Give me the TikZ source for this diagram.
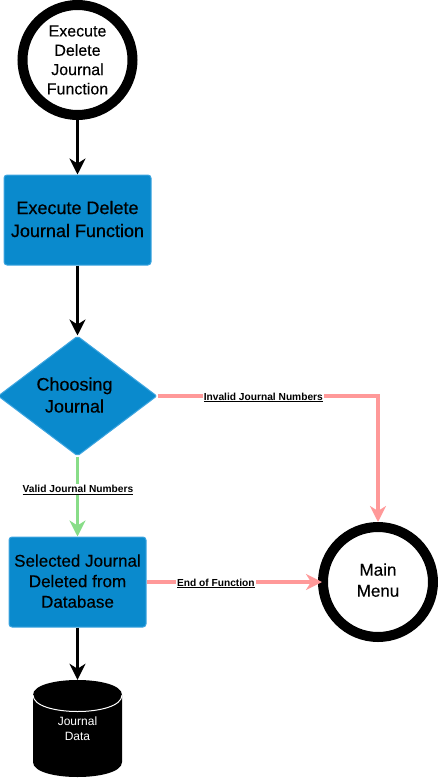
\documentclass[tikz,border=0pt]{standalone}
\usepackage{fontspec}
\setmainfont{Liberation Sans}
\newfontfamily\softheavy[FakeBold=0.25]{Liberation Sans}
\newfontfamily\strongheavy[FakeBold=0.6]{Liberation Sans}
\usetikzlibrary{shapes.geometric,arrows.meta}
\definecolor{boxblue}{HTML}{0A8ACD}
\definecolor{boxedge}{HTML}{3DA5E0}
\definecolor{redline}{HTML}{FF9999}
\definecolor{greenline}{HTML}{88DD88}
\tikzset{
  ring/.style={circle,draw=black,line width=10pt,fill=white,minimum size=110pt,inner sep=0pt,align=center},
  bluebox/.style={rectangle,rounded corners=3pt,draw=boxedge,line width=1pt,fill=boxblue,inner sep=0pt,align=center},
  choice/.style={diamond,draw=boxedge,line width=1pt,fill=boxblue,inner sep=0pt,align=center,rounded corners=2pt,
    minimum width=159pt,minimum height=120pt,aspect=1.325},
  flow/.style={line width=3.2pt,-{Stealth[length=16pt,width=16pt,inset=5pt]}},
  edgelabel/.style={fill=white,inner sep=1pt,font=\fontsize{10.2}{12}\selectfont\bfseries,text=black},
  dbtext/.style={inner sep=0pt,align=center,text=white,font=\fontsize{12}{15}\selectfont},
}
\newcommand{\ul}[1]{\underline{#1}}
\newcommand{\lift}[1]{\rule[-#1]{0pt}{#1}}
\begin{document}
\begin{tikzpicture}[x=1pt,y=-1pt]
\useasboundingbox (0,0) rectangle (438,779);
\node[ring,font=\softheavy\fontsize{16}{19.3}\selectfont] (start) at (77.5,60) {Execute\\Delete\\Journal\\Function};
\node[bluebox,minimum width=147pt,minimum height=90pt,font=\strongheavy\fontsize{18}{23}\selectfont] (exec) at (77.5,220) {Execute Delete\\Journal Function\lift{2pt}};
\node[choice,font=\softheavy\fontsize{18}{22}\selectfont] (choose) at (77.5,396) {\hspace{-6pt}Choosing\\\hspace{-6pt}Journal\lift{2pt}};
\node[bluebox,minimum width=137pt,minimum height=90pt,font=\softheavy\fontsize{17}{20.5}\selectfont] (sel) at (77.5,582) {Selected Journal\\Deleted from\\Database\lift{2pt}};
\node[ring,font=\softheavy\fontsize{17}{21}\selectfont] (menu) at (378,582) {Main\\Menu\lift{4pt}};
% database cylinder
\fill[black] (33,695) .. controls (33,675) and (122,675) .. (122,695) -- (122,762)
  .. controls (122,782) and (33,782) .. (33,762) -- cycle;
\draw[white,line width=1pt] (33,695) .. controls (33,717) and (122,717) .. (122,695);
\node[dbtext,minimum width=89pt,minimum height=97pt] (db) at (77.5,728.5) {Journal\\Data};
\draw[flow,black] (start) -- (exec);
\draw[flow,black] (exec) -- (choose);
\draw[flow,greenline] (choose) -- (sel) node[pos=0.42,edgelabel,yshift=0.5pt,xshift=0.5pt] (lv) {\ul{Valid Journal Numbers}};
\draw[flow,black] (sel) -- (db.north);
\draw[flow,redline] (choose.east) -| (menu.north) node[pos=0.24,edgelabel,yshift=-1.5pt] (li) {\ul{Invalid Journal Numbers}};
\draw[flow,redline] (sel) -- ([xshift=4pt]menu.west) node[pos=0.395,edgelabel,yshift=-1.5pt] (le) {\ul{End of Function}};
\end{tikzpicture}
\end{document}
